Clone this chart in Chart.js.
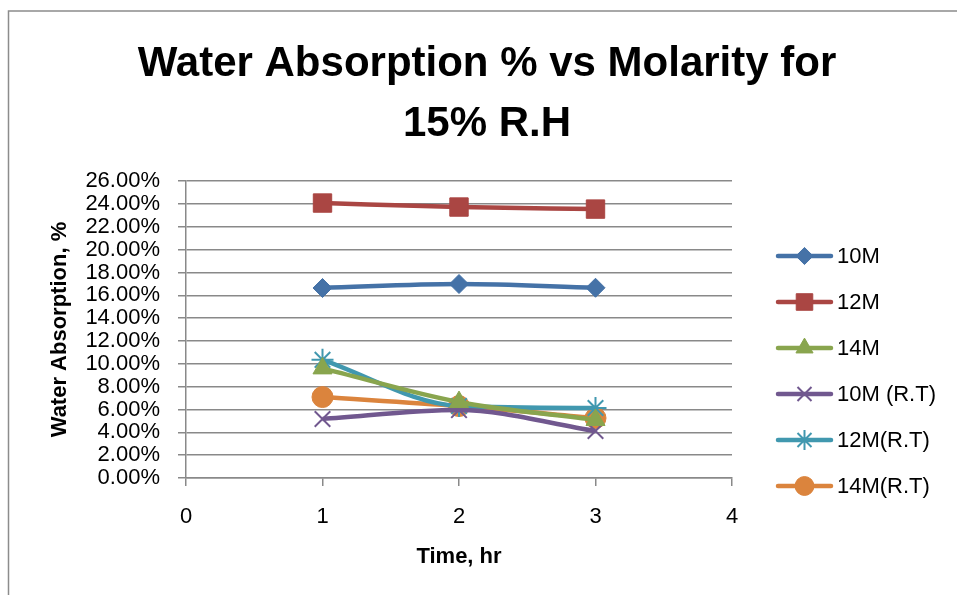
<!DOCTYPE html>
<html>
<head>
<meta charset="utf-8">
<script src="https://cdn.jsdelivr.net/npm/chart.js@4/dist/chart.umd.min.js"></script>
<style>
  html, body { margin: 0; padding: 0; background: #fff; }
  #wrap { width: 957px; height: 595px; }
</style>
</head>
<body>
<div id="wrap"><canvas id="c" width="957" height="595"></canvas></div>
<script>
// ---- data ----
const timeHr = [1, 2, 3];
const seriesNames = ['10M', '12M', '14M', '10M (R.T)', '12M(R.T)', '14M(R.T)'];
const s10M   = [16.64, 16.99, 16.66];
const s12M   = [24.08, 23.73, 23.55];
const s14M   = [9.6, 6.65, 5.08];
const s10MRT = [5.17, 5.95, 4.12];
const s12MRT = [10.35, 6.3, 6.13];
const s14MRT = [7.09, 6.3, 5.25];
const yTickValues = [0, 2, 4, 6, 8, 10, 12, 14, 16, 18, 20, 22, 24, 26];
const xTickValues = [0, 1, 2, 3, 4];
const titleLines = ['Water Absorption % vs Molarity for', '15% R.H'];

// ---- styles ----
const allSeries = [s10M, s12M, s14M, s10MRT, s12MRT, s14MRT];
const colors = ['#4572A7', '#AA4643', '#89A54E', '#71588F', '#4198AF', '#DB843D'];
const styles = ['rectRot', 'rect', 'triangle', 'crossRot', 'star', 'circle'];
const radii = [9.5, 13, 11, 11, 11, 10.5];
const FONT = '"Liberation Sans", Arial, sans-serif';
const GRID = '#898989';

const datasets = allSeries.map((vals, i) => ({
  label: seriesNames[i],
  data: vals.map((v, j) => ({ x: timeHr[j], y: v })),
  yAxisID: 'y',
  borderColor: colors[i],
  backgroundColor: colors[i],
  borderWidth: 4.5,
  pointStyle: styles[i],
  pointRadius: radii[i],
  pointHoverRadius: radii[i],
  pointBorderWidth: (styles[i] === 'crossRot' || styles[i] === 'star') ? 2 : 1,
  pointBorderColor: colors[i],
  pointBackgroundColor: colors[i],
  tension: 0.3,
  cubicInterpolationMode: 'monotone',
  fill: false
}));

const frame = {
  id: 'frame',
  beforeDraw(chart) {
    const ctx = chart.ctx;
    ctx.save();
    ctx.fillStyle = '#fff';
    ctx.fillRect(0, 0, chart.width, chart.height);
    ctx.strokeStyle = '#8c8c8c';
    ctx.lineWidth = 1.5;
    ctx.beginPath();
    ctx.moveTo(8.5, chart.height);
    ctx.lineTo(8.5, 11);
    ctx.lineTo(chart.width, 11);
    ctx.stroke();
    ctx.restore();
  }
};

const sideLegend = {
  id: 'sideLegend',
  afterDraw(chart) {
    const ctx = chart.ctx;
    ctx.save();
    chart.data.datasets.forEach((ds, i) => {
      const y = 256 + i * 46;
      ctx.strokeStyle = ds.borderColor;
      ctx.lineWidth = 4.5;
      ctx.lineCap = 'round';
      ctx.beginPath();
      ctx.moveTo(778, y);
      ctx.lineTo(831, y);
      ctx.stroke();
      ctx.lineCap = 'butt';
      ctx.fillStyle = ds.backgroundColor;
      ctx.strokeStyle = ds.borderColor;
      ctx.lineWidth = ds.pointBorderWidth;
      Chart.helpers.drawPoint(ctx, {
        pointStyle: ds.pointStyle,
        radius: ds.pointRadius * 0.9,
        rotation: 0,
        borderWidth: ds.pointBorderWidth
      }, 804.5, y);
      ctx.fillStyle = '#000';
      ctx.font = '22px ' + FONT;
      ctx.textBaseline = 'middle';
      ctx.textAlign = 'left';
      ctx.fillText(ds.label, 837, y + 1);
    });
    ctx.restore();
  }
};

new Chart(document.getElementById('c'), {
  type: 'line',
  data: { datasets },
  plugins: [frame, sideLegend],
  options: {
    responsive: false,
    animation: false,
    events: [],
    layout: { padding: { left: 38, right: 21, top: 0, bottom: 0 } },
    plugins: {
      legend: { display: false },
      tooltip: { enabled: false },
      title: {
        display: true,
        text: titleLines,
        color: '#000',
        font: { family: FONT, size: 42, weight: 'bold', lineHeight: 1.43 },
        padding: { top: 34, bottom: 27 }
      }
    },
    scales: {
      x: {
        type: 'linear',
        min: 0, max: 4,
        afterBuildTicks(axis) { axis.ticks = xTickValues.map(v => ({ value: v })); },
        ticks: {
          color: '#000',
          font: { family: FONT, size: 22 },
          padding: 18,
          maxRotation: 0,
          autoSkip: false,
          callback: v => String(v)
        },
        grid: { drawOnChartArea: false, drawTicks: true, tickLength: 8, color: GRID, lineWidth: 1.5 },
        border: { display: true, color: GRID, width: 1.5 },
        title: {
          display: true,
          text: 'Time, hr',
          color: '#000',
          font: { family: FONT, size: 22, weight: 'bold' },
          padding: { top: 0, bottom: 25 }
        },
        afterFit(axis) { axis.height = 117; }
      },
      y: {
        type: 'linear',
        position: 'left',
        min: 0, max: 26,
        afterBuildTicks(axis) { axis.ticks = yTickValues.map(v => ({ value: v })); },
        ticks: {
          color: '#000',
          font: { family: FONT, size: 22, lineHeight: 1 },
          padding: 18,
          autoSkip: false,
          callback: v => v.toFixed(2) + '%'
        },
        grid: { drawTicks: true, tickLength: 8, color: GRID, lineWidth: 1.5 },
        border: { display: true, color: GRID, width: 1.5 },
        title: {
          display: true,
          text: 'Water Absorption, %',
          color: '#000',
          font: { family: FONT, size: 22, weight: 'bold' },
          padding: { top: 9, bottom: 0 }
        },
        afterFit(axis) { axis.width = 186 - 38; }
      },
      legendSpace: {
        type: 'linear',
        position: 'right',
        display: true,
        min: 0, max: 1,
        ticks: { display: false },
        grid: { display: false, drawTicks: false },
        border: { display: false },
        title: { display: false },
        afterFit(axis) { axis.width = 957 - 21 - 732; }
      }
    }
  }
});
</script>
</body>
</html>
